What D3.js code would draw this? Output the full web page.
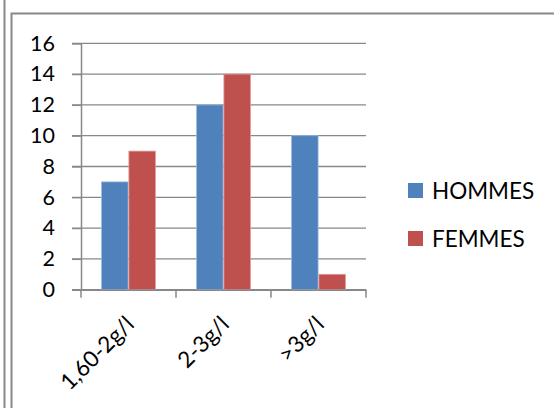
<!DOCTYPE html>
<html>
<head>
<meta charset="utf-8">
<script src="https://cdn.jsdelivr.net/npm/d3@7"></script>
<style>
  html, body { margin: 0; padding: 0; background: #fff; }
  svg { display: block; }
  text { font-family: Lato, "Open Sans", sans-serif; fill: #000; }
</style>
</head>
<body>
<svg id="chart" width="554" height="408"></svg>
<script>
// Glycémie par tranche, nombre de patients par sexe
const categories = ["1,60-2g/l", "2-3g/l", ">3g/l"];
const seriesNames = ["HOMMES", "FEMMES"];
const hommes = [7, 12, 10];
const femmes = [9, 14, 1];
const yTicks = [0, 2, 4, 6, 8, 10, 12, 14, 16];
const colors = ["#4F81BD", "#C0504D"];

const svg = d3.select("#chart");
const grey = "#888888";

// outer frames
svg.append("line")
  .attr("x1", 4.5).attr("x2", 4.5).attr("y1", 0).attr("y2", 408)
  .attr("stroke", grey).attr("stroke-width", 2);
svg.append("rect")
  .attr("x", 11.5).attr("y", 13.5).attr("width", 600).attr("height", 500)
  .attr("fill", "none").attr("stroke", grey).attr("stroke-width", 2);

const plot = { left: 81, right: 366, top: 43.3, bottom: 289.7 };

const x = d3.scaleBand().domain(categories).range([plot.left, plot.right]);
const inner = d3.scaleBand().domain(seriesNames)
  .range([0, x.bandwidth()]).paddingOuter(0.74).paddingInner(0);
const y = d3.scaleLinear().domain([0, 16]).range([plot.bottom, plot.top]);

// gridlines
svg.append("g").selectAll("line").data(yTicks).join("line")
  .attr("x1", plot.left - 9).attr("x2", plot.right)
  .attr("y1", d => y(d)).attr("y2", d => y(d))
  .attr("stroke", grey).attr("stroke-width", 1.3);

// y axis
const yAxis = svg.append("g")
  .attr("transform", `translate(${plot.left},0)`)
  .call(d3.axisLeft(y).tickValues(yTicks).tickSize(9).tickPadding(17).tickFormat(d3.format("d")));
yAxis.select(".domain").attr("stroke", grey).attr("stroke-width", 1.5);
yAxis.selectAll(".tick line").attr("stroke", grey).attr("stroke-width", 1.3);
yAxis.selectAll("text").attr("font-size", 21.5).attr("font-family", "Lato, sans-serif").attr("fill", "#000");

// bars
const rows = categories.map((c, i) => ({ cat: c, values: [hommes[i], femmes[i]] }));
svg.append("g").selectAll("g").data(rows).join("g")
  .attr("transform", d => `translate(${x(d.cat)},0)`)
  .selectAll("rect").data(d => d.values.map((v, j) => ({ key: seriesNames[j], v, j })))
  .join("rect")
  .attr("x", d => inner(d.key) + 0.4)
  .attr("width", inner.bandwidth() - 0.8)
  .attr("y", d => y(d.v))
  .attr("height", d => y(0) - y(d.v))
  .attr("fill", d => colors[d.j])
  .attr("stroke", d => d.j === 0 ? "#9DB9DC" : "#DC9C9A")
  .attr("stroke-width", 0.8);

// x axis
const xAxis = svg.append("g")
  .attr("transform", `translate(0,${plot.bottom})`)
  .call(d3.axisBottom(x).tickSize(0).tickFormat(""));
xAxis.select(".domain").attr("stroke", grey).attr("stroke-width", 1.5);
const boundaries = [plot.left, ...categories.map(c => x(c) + x.bandwidth())];
svg.append("g").selectAll("line").data(boundaries).join("line")
  .attr("x1", d => d).attr("x2", d => d)
  .attr("y1", plot.bottom).attr("y2", plot.bottom + 8)
  .attr("stroke", grey).attr("stroke-width", 1.5);

// rotated category labels
svg.append("g").selectAll("text").data(categories).join("text")
  .attr("transform", d => `translate(${x(d) + x.bandwidth() / 2 + 7},${plot.bottom + 36}) rotate(-45)`)
  .attr("text-anchor", "end")
  .attr("font-size", 22.5)
  .text(d => d);

// legend
const legend = svg.append("g").selectAll("g").data(seriesNames).join("g")
  .attr("transform", (d, i) => `translate(408,${183 + i * 48})`);
legend.append("rect")
  .attr("width", 15).attr("height", 15)
  .attr("fill", (d, i) => colors[i]);
legend.append("text")
  .attr("x", 24).attr("y", 16)
  .attr("font-size", 22.5)
  .text(d => d);
</script>
</body>
</html>
